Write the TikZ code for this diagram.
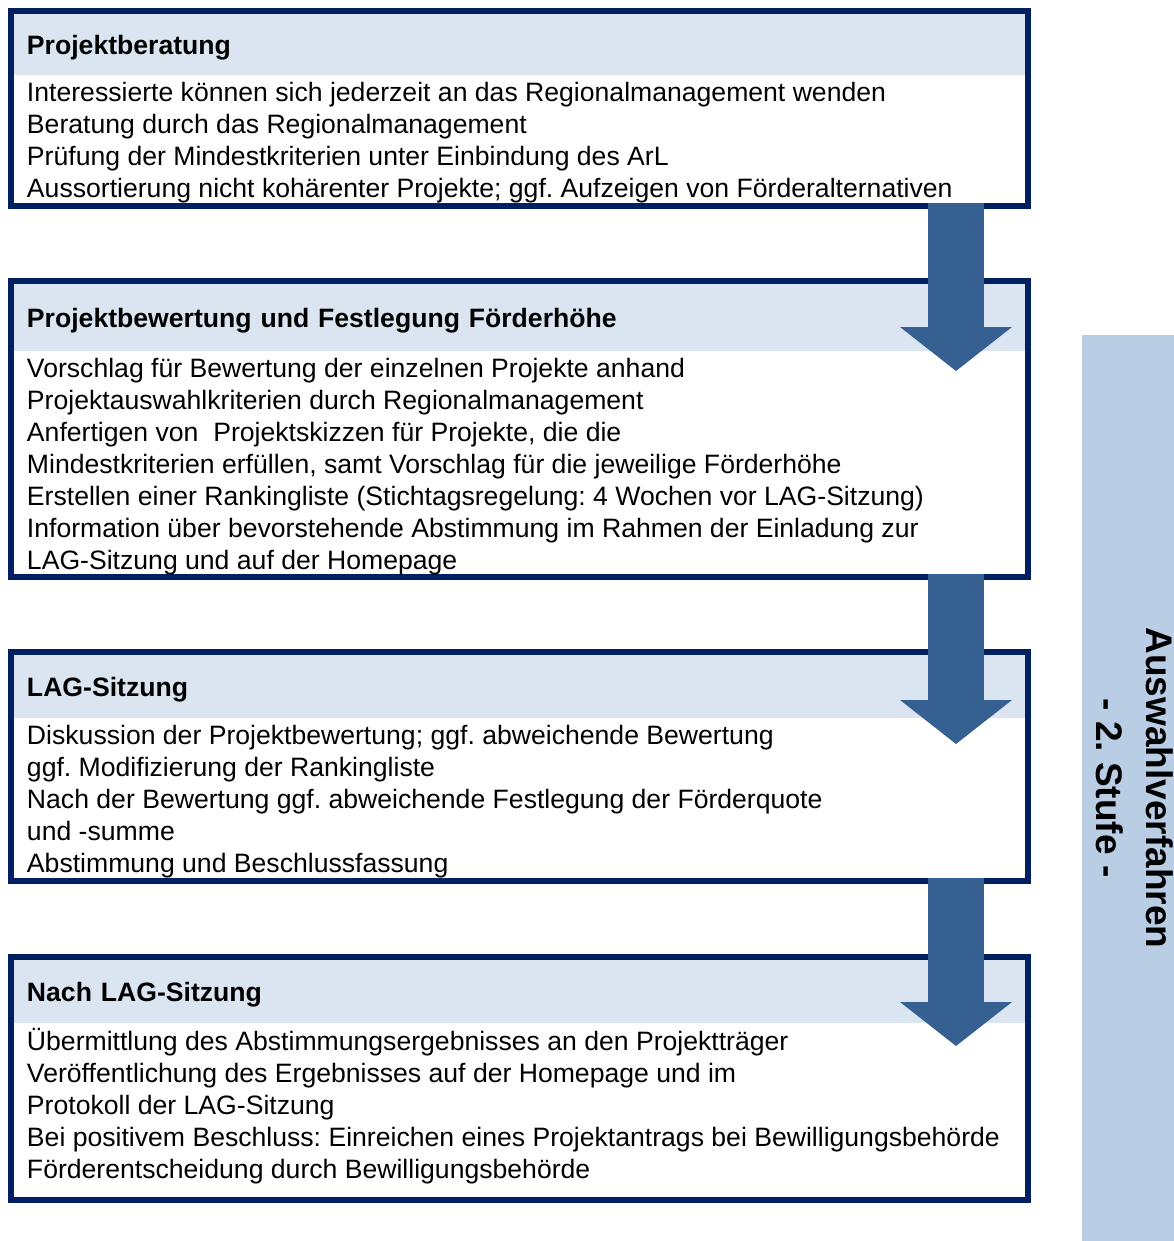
\documentclass[tikz,border=0pt]{standalone}
\usepackage{fontspec}
\setmainfont{Liberation Sans}
\usetikzlibrary{positioning, arrows.meta, calc}

\definecolor{framenavy}{RGB}{0,32,96}
\definecolor{headblue}{RGB}{219,229,241}
\definecolor{arrowblue}{RGB}{55,96,146}
\definecolor{sidebarblue}{RGB}{185,205,229}

\frenchspacing

\begin{document}
\begin{tikzpicture}[
    x=1pt, y=-1pt,
    stage/.style={rectangle, draw=framenavy, line width=6pt, minimum width=1017pt, anchor=north west, inner sep=0pt, outer sep=0pt},
    headbar/.style={rectangle, fill=headblue, anchor=north west, minimum width=1011pt, text width=985pt, inner xsep=13pt, inner ysep=0pt, outer sep=0pt, text height=19pt, text depth=0pt, align=left, font=\fontsize{26.6}{32}\selectfont\bfseries},
    bodytext/.style={inner xsep=13pt, inner ysep=0pt, outer sep=0pt, align=left, font=\fontsize{26.6}{32}\selectfont},
    sidebar/.style={rectangle, fill=sidebarblue, anchor=north west, minimum width=92pt, minimum height=906pt, inner sep=0pt, outer sep=0pt},
    sidelabel/.style={rotate=-90, align=center, inner sep=0pt, font=\fontsize{37}{50}\selectfont\bfseries},
    flow/.style={draw=arrowblue, line width=56pt, -{Triangle[width=112pt, length=44pt, line width=0pt]}}
]
\useasboundingbox (0,0) rectangle (1174,1241);

% Stage 1: Projektberatung
\node[stage, minimum height=194.5pt] (b1) at (11,11.5) {};
\node[headbar, minimum height=60.5pt] (h1) at ([shift={(3,3)}]b1.north west) {Projektberatung};
\node[bodytext, below=4pt of h1.south west, anchor=north west] (t1) {\strut Interessierte können sich jederzeit an das Regionalmanagement wenden\\Beratung durch das Regionalmanagement\\Prüfung der Mindestkriterien unter Einbindung des ArL\\Aussortierung nicht kohärenter Projekte; ggf. Aufzeigen von Förderalternativen};

% Stage 2: Projektbewertung
\node[stage, minimum height=295.5pt] (b2) at (11,281) {};
\node[headbar, minimum height=67pt] (h2) at ([shift={(3,3)}]b2.north west) {Projektbewertung und Festlegung Förderhöhe};
\node[bodytext, below=4pt of h2.south west, anchor=north west] (t2) {\strut Vorschlag für Bewertung der einzelnen Projekte anhand\\Projektauswahlkriterien durch Regionalmanagement\\Anfertigen von\ \ Projektskizzen für Projekte, die die\\Mindestkriterien erfüllen, samt Vorschlag für die jeweilige Förderhöhe\\Erstellen einer Rankingliste (Stichtagsregelung: 4 Wochen vor LAG-Sitzung)\\Information über bevorstehende Abstimmung im Rahmen der Einladung zur\\LAG-Sitzung und auf der Homepage};

% Stage 3: LAG-Sitzung
\node[stage, minimum height=228.5pt] (b3) at (11,652) {};
\node[headbar, minimum height=63pt] (h3) at ([shift={(3,3)}]b3.north west) {LAG-Sitzung};
\node[bodytext, below=4pt of h3.south west, anchor=north west] (t3) {\strut Diskussion der Projektbewertung; ggf. abweichende Bewertung\\ggf. Modifizierung der Rankingliste\\Nach der Bewertung ggf. abweichende Festlegung der Förderquote\\und -summe\\Abstimmung und Beschlussfassung};

% Stage 4: Nach LAG-Sitzung
\node[stage, minimum height=242.5pt] (b4) at (11,957) {};
\node[headbar, minimum height=63pt] (h4) at ([shift={(3,3)}]b4.north west) {Nach LAG-Sitzung};
\node[bodytext, below=5pt of h4.south west, anchor=north west] (t4) {\strut Übermittlung des Abstimmungsergebnisses an den Projektträger\\Veröffentlichung des Ergebnisses auf der Homepage und im\\Protokoll der LAG-Sitzung\\Bei positivem Beschluss: Einreichen eines Projektantrags bei Bewilligungsbehörde\\Förderentscheidung durch Bewilligungsbehörde};

% Side bar
\node[sidebar] (side) at (1082,335) {};
\node[sidelabel] (sidetext) at ([xshift=7pt]side.center) {Auswahlverfahren\\- 2. Stufe -};

% Connectors
\coordinate (ax) at (956,0);
\draw[flow] ($(b1.south -| ax)+(0,-3)$) -- ($(b2.north -| ax)+(0,90)$);
\draw[flow] ($(b2.south -| ax)+(0,-3)$) -- ($(b3.north -| ax)+(0,92)$);
\draw[flow] ($(b3.south -| ax)+(0,-3)$) -- ($(b4.north -| ax)+(0,89)$);

\end{tikzpicture}
\end{document}
